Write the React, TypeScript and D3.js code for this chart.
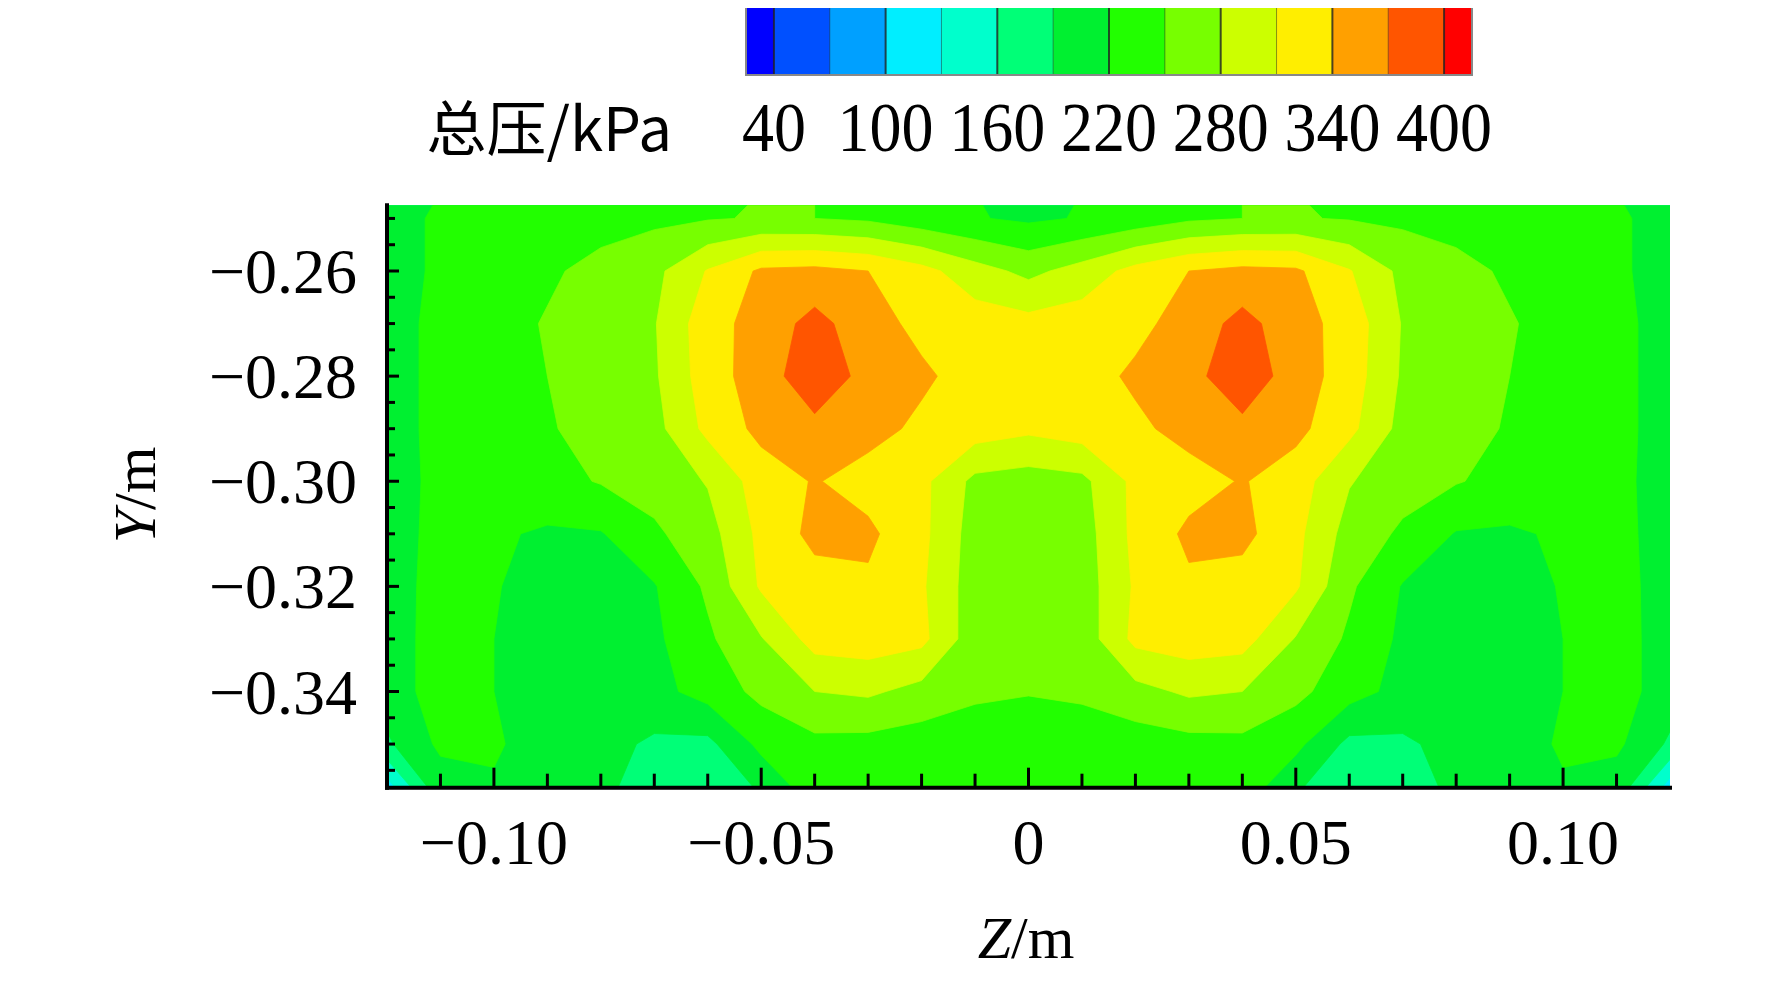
import { useEffect, useRef } from 'react';
import * as d3 from 'd3';

// grid columns (Z, m) and rows (Y, m)
const zValues = [-0.12, -0.11, -0.10, -0.09, -0.08, -0.07, -0.06, -0.05, -0.04, -0.03, -0.02, -0.01, 0,
  0.01, 0.02, 0.03, 0.04, 0.05, 0.06, 0.07, 0.08, 0.09, 0.10, 0.11, 0.12];
const yValues = [-0.25, -0.26, -0.27, -0.28, -0.29, -0.30, -0.31, -0.32, -0.33, -0.34, -0.35, -0.36];

// total pressure (kPa) per row, left to right
const p025 = [200, 228, 232, 236, 240, 244, 248, 252, 250, 245, 232, 222, 215, 222, 232, 245, 250, 252, 248, 244, 240, 236, 232, 228, 200];
const p026 = [205, 226, 234, 246, 258, 272, 312, 345, 348, 340, 320, 292, 272, 292, 320, 340, 348, 345, 312, 272, 258, 246, 234, 226, 205];
const p027 = [208, 228, 240, 252, 265, 278, 328, 352, 380, 352, 332, 325, 320, 325, 332, 352, 380, 352, 328, 278, 265, 252, 240, 228, 208];
const p028 = [208, 228, 238, 250, 262, 276, 326, 355, 390, 360, 345, 328, 322, 328, 345, 360, 390, 355, 326, 276, 262, 250, 238, 228, 208];
const p029 = [208, 228, 234, 248, 258, 270, 318, 348, 362, 350, 334, 325, 316, 325, 334, 350, 362, 348, 318, 270, 258, 248, 234, 228, 208];
const p030 = [206, 228, 232, 240, 252, 262, 282, 325, 342, 328, 318, 272, 266, 272, 318, 328, 342, 325, 282, 262, 252, 240, 232, 228, 206];
const p031 = [205, 230, 224, 216, 218, 245, 268, 318, 348, 346, 318, 266, 260, 266, 318, 346, 348, 318, 268, 245, 218, 216, 224, 230, 205];
const p032 = [205, 232, 222, 208, 210, 218, 255, 314, 328, 335, 314, 264, 258, 264, 314, 335, 328, 314, 255, 218, 210, 208, 222, 232, 205];
const p033 = [206, 232, 220, 205, 206, 214, 245, 278, 322, 326, 318, 262, 255, 262, 318, 326, 322, 278, 245, 214, 206, 205, 220, 232, 206];
const p034 = [206, 232, 220, 203, 204, 210, 232, 258, 280, 285, 270, 258, 252, 258, 270, 285, 280, 258, 232, 210, 204, 203, 220, 232, 206];
const p035 = [185, 226, 224, 205, 200, 185, 182, 228, 242, 240, 235, 225, 228, 225, 235, 240, 242, 228, 182, 185, 200, 205, 224, 226, 185];
const p036 = [100, 200, 215, 205, 195, 175, 172, 190, 230, 228, 225, 222, 222, 222, 225, 228, 230, 190, 172, 175, 195, 205, 215, 200, 100];
const pressureRows = [p025, p026, p027, p028, p029, p030, p031, p032, p033, p034, p035, p036];

// contour levels and colours
const levels = [40, 70, 100, 130, 160, 190, 220, 250, 280, 310, 340, 370, 400];
const levelColors = ['#0000ff', '#0050ff', '#00a0ff', '#00eeff', '#00ffcc', '#00ff77', '#00f030',
  '#22ff00', '#77ff00', '#ccff00', '#ffee00', '#ffa000', '#ff5500', '#ff0000'];
const legendLabels = [40, 100, 160, 220, 280, 340, 400];
const zTicks = [-0.1, -0.05, 0, 0.05, 0.1];
const yTicks = [-0.26, -0.28, -0.30, -0.32, -0.34];

export default function App() {
  const ref = useRef<SVGSVGElement | null>(null);

  useEffect(() => {
    const svg = d3.select(ref.current);
    svg.selectAll('*').remove();
    const font = '"Liberation Serif", "Times New Roman", serif';

    const x = d3.scaleLinear().domain([-0.12, 0.12]).range([387, 1670]);
    const y = d3.scaleLinear().domain([-0.26, -0.34]).range([271, 691.5]);
    const top = y(-0.2475), bottom = y(-0.3583);

    svg.append('defs').append('clipPath').attr('id', 'plotClip')
      .append('rect').attr('x', x(-0.12)).attr('y', top)
      .attr('width', x(0.12) - x(-0.12)).attr('height', bottom - top);

    // contour field
    const nx = zValues.length, ny = yValues.length;
    const values = pressureRows.flat();
    const dz = zValues[1] - zValues[0];
    const dy = yValues[1] - yValues[0];
    const gx = (g: number) => x(zValues[0] + (g - 0.5) * dz);
    const gy = (g: number) => y(yValues[0] + (g - 0.5) * dy);
    const path = d3.geoPath(d3.geoTransform({
      point(px, py) { this.stream.point(gx(px), gy(py)); }
    }));
    const field = svg.append('g').attr('clip-path', 'url(#plotClip)');
    field.append('rect').attr('x', x(-0.12)).attr('y', top)
      .attr('width', x(0.12) - x(-0.12)).attr('height', bottom - top).attr('fill', levelColors[0]);
    const contours = d3.contours().size([nx, ny]).thresholds(levels)(values);
    field.selectAll('path.band').data(contours).enter().append('path')
      .attr('d', (d) => path(d as any))
      .attr('fill', (d, i) => levelColors[i + 1])
      .attr('stroke', (d, i) => levelColors[i + 1])
      .attr('stroke-width', 0.8);

    // axes
    const axis = svg.append('g');
    axis.append('line').attr('x1', x(-0.12)).attr('x2', x(-0.12)).attr('y1', top - 2).attr('y2', bottom + 2)
      .attr('stroke', '#000').attr('stroke-width', 4);
    axis.append('line').attr('x1', x(-0.12) - 2).attr('x2', x(0.12) + 2).attr('y1', bottom).attr('y2', bottom)
      .attr('stroke', '#000').attr('stroke-width', 4);
    d3.range(-0.11, 0.115, 0.01).forEach((v) => {
      const major = zTicks.some((t) => Math.abs(t - v) < 1e-6);
      axis.append('line').attr('x1', x(v)).attr('x2', x(v)).attr('y1', bottom)
        .attr('y2', bottom - (major ? 20 : 14)).attr('stroke', '#000').attr('stroke-width', 3);
    });
    d3.range(-0.25, -0.3575, -0.005).forEach((v) => {
      const major = yTicks.some((t) => Math.abs(t - v) < 1e-6);
      axis.append('line').attr('x1', x(-0.12)).attr('x2', x(-0.12) + (major ? 12 : 8))
        .attr('y1', y(v)).attr('y2', y(v)).attr('stroke', '#000').attr('stroke-width', 3);
    });
    const fmt = (v: number, d: number) => (v === 0 ? '0' : v.toFixed(d).replace('-', '\u2212'));
    axis.selectAll('text.zt').data(zTicks).enter().append('text')
      .attr('x', (d) => x(d)).attr('y', 864).attr('text-anchor', 'middle')
      .attr('font-family', font).attr('font-size', 64).text((d) => fmt(d, 2));
    axis.selectAll('text.yt').data(yTicks).enter().append('text')
      .attr('x', 357).attr('y', (d) => y(d) + 22).attr('text-anchor', 'end')
      .attr('font-family', font).attr('font-size', 64).text((d) => fmt(d, 2));

    const zl = svg.append('text').attr('x', 1026).attr('y', 958).attr('text-anchor', 'middle')
      .attr('font-family', font).attr('font-size', 60);
    zl.append('tspan').attr('font-style', 'italic').text('Z');
    zl.append('tspan').text('/m');
    const yl = svg.append('text').attr('transform', 'translate(155,495) rotate(-90)')
      .attr('text-anchor', 'middle').attr('font-family', font).attr('font-size', 60);
    yl.append('tspan').attr('font-style', 'italic').text('Y');
    yl.append('tspan').text('/m');

    // colour bar
    const cb = d3.scaleLinear().domain([25, 415]).range([746, 1472]);
    const edges = [25, ...levels, 415];
    const bar = svg.append('g');
    levelColors.forEach((c, i) => {
      bar.append('rect').attr('x', cb(edges[i])).attr('y', 4)
        .attr('width', cb(edges[i + 1]) - cb(edges[i]) + 0.5).attr('height', 71).attr('fill', c);
    });
    levels.forEach((l) => {
      bar.append('line').attr('x1', cb(l)).attr('x2', cb(l)).attr('y1', 4).attr('y2', 75)
        .attr('stroke', '#222').attr('stroke-width', legendLabels.includes(l) ? 2 : 0.6).attr('stroke-opacity', 0.8);
    });
    bar.append('rect').attr('x', cb(25)).attr('y', 4).attr('width', cb(415) - cb(25)).attr('height', 71)
      .attr('fill', 'none').attr('stroke', '#888').attr('stroke-width', 2);
    bar.selectAll('text.cl').data(legendLabels).enter().append('text')
      .attr('x', (d) => cb(d)).attr('y', 151).attr('text-anchor', 'middle')
      .attr('font-family', font).attr('font-size', 70)
      .attr('textLength', (d) => (String(d).length === 2 ? 64 : 96))
      .attr('lengthAdjust', 'spacingAndGlyphs').text((d) => String(d));
    svg.append('text').attr('x', 672).attr('y', 151).attr('text-anchor', 'end')
      .attr('font-family', '"Noto Sans CJK SC", "Liberation Serif", serif').attr('font-size', 60)
      .text('总压/kPa');
  }, []);

  return (
    <svg ref={ref} width={1772} height={981} style={{ display: 'block', margin: -8, background: '#fff' }} />
  );
}
